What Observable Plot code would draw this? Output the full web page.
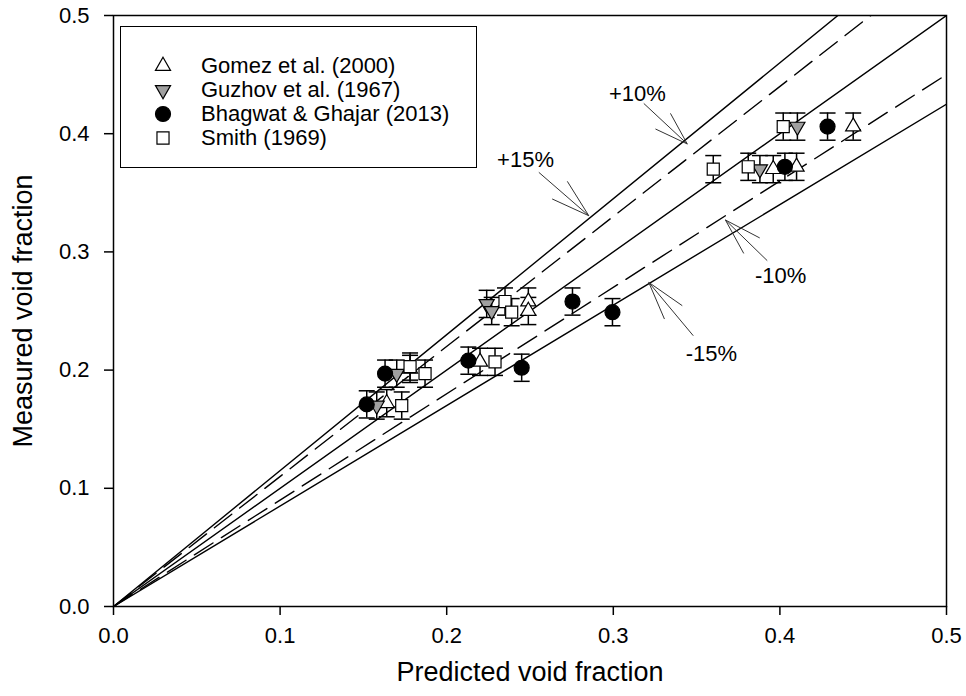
<!DOCTYPE html>
<html><head><meta charset="utf-8">
<script src="https://cdn.jsdelivr.net/npm/d3@7"></script>
<script src="https://cdn.jsdelivr.net/npm/@observablehq/plot@0.6"></script>
<style>
body{margin:0;background:#fff;font-family:"Liberation Sans",Arial,sans-serif}
#wrap{position:relative;width:966px;height:696px}
#legend{position:absolute;border:1.5px solid #000;background:#fff;box-sizing:border-box}
.row{position:absolute;left:0;display:flex;align-items:center;font-size:22px;line-height:1}
</style>
</head><body><div id="wrap"></div>
<script>
// ---- data ----
const seriesNames = ["Gomez et al. (2000)", "Guzhov et al. (1967)", "Bhagwat & Ghajar (2013)", "Smith (1969)"];
const gomezX = [0.164, 0.178, 0.220, 0.249, 0.249, 0.396, 0.410, 0.444];
const gomezY = [0.172, 0.201, 0.207, 0.258, 0.250, 0.370, 0.372, 0.406];
const guzhovX = [0.158, 0.170, 0.224, 0.227, 0.388, 0.4105];
const guzhovY = [0.170, 0.197, 0.256, 0.250, 0.370, 0.406];
const bhagwatX = [0.152, 0.163, 0.213, 0.245, 0.2755, 0.2995, 0.403, 0.4286];
const bhagwatY = [0.171, 0.197, 0.208, 0.202, 0.258, 0.249, 0.372, 0.406];
const smithX = [0.173, 0.178, 0.187, 0.229, 0.235, 0.239, 0.360, 0.381, 0.402];
const smithY = [0.170, 0.203, 0.197, 0.207, 0.258, 0.249, 0.370, 0.372, 0.406];
const errHalf = 0.0115;

const refSlopes = [1.15, 1.10, 1.00, 0.90, 0.85];
const refDashed = [false, true, false, true, false];
const refXEnds = [0, 0.5];

const axisTicks = [0, 0.1, 0.2, 0.3, 0.4, 0.5];

const annoText = ["+10%", "+15%", "-10%", "-15%"];
const annoTextX = [0.3145, 0.2473, 0.4004, 0.3589];
const annoTextY = [0.4339, 0.3780, 0.2799, 0.2139];
const arrowTipX = [0.3444, 0.2853, 0.3673, 0.3213];
const arrowTipY = [0.3913, 0.3306, 0.3270, 0.2742];
const arrowTailX = [0.3183, 0.2553, 0.3924, 0.3480];
const arrowTailY = [0.4256, 0.3673, 0.2926, 0.2291];
const wingAX = [0.3253, 0.2633, 0.3783, 0.3307];
const wingAY = [0.4040, 0.3448, 0.2987, 0.2432];
const wingBX = [0.3343, 0.2724, 0.3879, 0.3414];
const wingBY = [0.4172, 0.3597, 0.3118, 0.2545];

// ---- build tables ----
const toPts = (xs, ys) => xs.map((x, i) => ({x, y: ys[i], lo: ys[i] - errHalf, hi: ys[i] + errHalf}));
const series = [
  {name: seriesNames[0], pts: toPts(gomezX, gomezY), symbol: "triangle", r: 5.6, fill: "#fff", rotate: 0},
  {name: seriesNames[1], pts: toPts(guzhovX, guzhovY), symbol: "triangle", r: 5.6, fill: "#a0a0a0", rotate: 180},
  {name: seriesNames[2], pts: toPts(bhagwatX, bhagwatY), symbol: "circle", r: 7.5, fill: "#000", rotate: 0},
  {name: seriesNames[3], pts: toPts(smithX, smithY), symbol: "square", r: 6.8, fill: "#fff", rotate: 0}
];
const refLines = refSlopes.flatMap((k, i) => refXEnds.map(x => ({x, y: k * x, k, dashed: refDashed[i]})));
const annos = annoText.map((t, i) => ({
  t, tx: annoTextX[i], ty: annoTextY[i],
  x: arrowTipX[i], y: arrowTipY[i],
  x0: arrowTailX[i], y0: arrowTailY[i],
  ax: wingAX[i], ay: wingAY[i], bx: wingBX[i], by: wingBY[i]
}));

const capSymbol = {draw(ctx, size) { const r = Math.sqrt(size / Math.PI); ctx.moveTo(-r, 0); ctx.lineTo(r, 0); }};

const marks = [];
for (const dashed of [false, true]) {
  marks.push(Plot.line(refLines.filter(d => d.dashed === dashed), {
    x: "x", y: "y", z: "k", stroke: "#000", strokeWidth: 1.4, clip: true,
    strokeDasharray: dashed ? "22,10" : null
  }));
}
marks.push(Plot.link(annos, {x1: "x0", y1: "y0", x2: "x", y2: "y", stroke: "#333", strokeWidth: 1}));
marks.push(Plot.link(annos, {x1: "ax", y1: "ay", x2: "x", y2: "y", stroke: "#333", strokeWidth: 1}));
marks.push(Plot.link(annos, {x1: "bx", y1: "by", x2: "x", y2: "y", stroke: "#333", strokeWidth: 1}));
marks.push(Plot.text(annos, {x: "tx", y: "ty", text: "t", fontSize: 22, fill: "#000"}));
for (const s of series) {
  marks.push(Plot.ruleX(s.pts, {x: "x", y1: "lo", y2: "hi", stroke: "#000", strokeWidth: 1.5}));
  marks.push(Plot.dot(s.pts, {x: "x", y: "lo", symbol: capSymbol, r: 8, stroke: "#000", strokeWidth: 1.5}));
  marks.push(Plot.dot(s.pts, {x: "x", y: "hi", symbol: capSymbol, r: 8, stroke: "#000", strokeWidth: 1.5}));
  marks.push(Plot.dot(s.pts, {x: "x", y: "y", symbol: s.symbol, r: s.r, fill: s.fill, stroke: "#000", strokeWidth: 1.2, rotate: s.rotate}));
}
marks.push(Plot.frame({stroke: "#000", strokeWidth: 1.5}));
marks.push(Plot.axisX({ticks: axisTicks, tickFormat: ".1f", tickSize: 9, tickPadding: 12, strokeWidth: 1.5, fontSize: 22, label: null}));
marks.push(Plot.axisY({ticks: axisTicks, tickFormat: ".1f", tickSize: 9, tickPadding: 15, strokeWidth: 1.5, fontSize: 22, label: null}));
marks.push(Plot.text(["Predicted void fraction"], {frameAnchor: "bottom", dy: 74, fontSize: 27, fill: "#000", textAnchor: "middle"}));
marks.push(Plot.text(["Measured void fraction"], {frameAnchor: "left", dx: -90, rotate: -90, fontSize: 27, fill: "#000", textAnchor: "middle"}));

const chart = Plot.plot({
  width: 966, height: 696,
  marginLeft: 113, marginRight: 20, marginTop: 15, marginBottom: 90,
  style: {fontFamily: "'Liberation Sans', Arial, sans-serif", fontSize: "22px", color: "#000", background: "#fff"},
  x: {domain: [0, 0.5]},
  y: {domain: [0, 0.5]},
  marks
});
const wrap = document.getElementById("wrap");
wrap.appendChild(chart);

// ---- legend ----
const legend = document.createElement("div");
legend.id = "legend";
Object.assign(legend.style, {left: "120px", top: "26px", width: "357px", height: "142px"});
series.forEach((s, i) => {
  const row = document.createElement("div");
  row.className = "row";
  row.style.top = (27 + i * 24) + "px";
  row.style.height = "24px";
  const svg = d3.create("svg").attr("width", 62).attr("height", 24);
  const size = Math.PI * s.r * s.r;
  const sym = s.symbol === "triangle" ? d3.symbolTriangle : s.symbol === "square" ? d3.symbolSquare : d3.symbolCircle;
  svg.append("path").attr("d", d3.symbol(sym, size)())
    .attr("transform", `translate(42,12) rotate(${s.rotate})`)
    .attr("fill", s.fill).attr("stroke", "#000").attr("stroke-width", 1.2);
  row.appendChild(svg.node());
  const txt = document.createElement("span");
  txt.textContent = s.name;
  txt.style.marginLeft = "18px";
  row.appendChild(txt);
  legend.appendChild(row);
});
wrap.appendChild(legend);
</script>
</body></html>
